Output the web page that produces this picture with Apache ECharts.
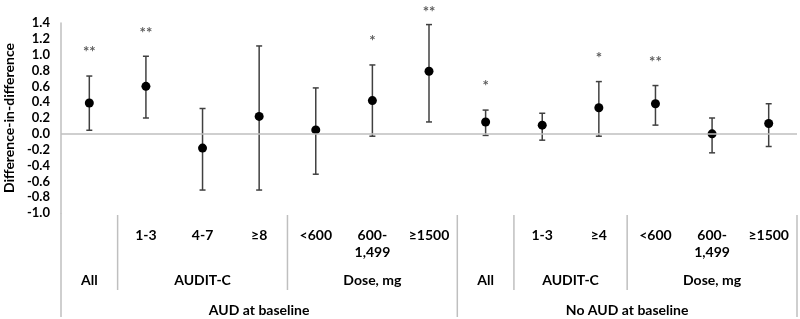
<!DOCTYPE html>
<html>
<head>
<meta charset="utf-8">
<script src="https://cdn.jsdelivr.net/npm/echarts@6/dist/echarts.min.js"></script>
<style>html,body{margin:0;padding:0;background:#fff}#chart{width:800px;height:319px}</style>
</head>
<body>
<div id="chart"></div>
<script>
// level 1 labels (one per point)
var tickLabels = ['', '1-3', '4-7', '≥8', '<600', '600-\n1,499', '≥1500', '', '1-3', '≥4', '<600', '600-\n1,499', '≥1500'];
// level 2 groups
var groupNames = ['All', 'AUDIT-C', 'Dose, mg', 'All', 'AUDIT-C', 'Dose, mg'];
var groupStart = [0, 1, 4, 7, 8, 10];
var groupEnd = [0, 3, 6, 7, 9, 12];
// level 3 groups
var cohortNames = ['AUD at baseline', 'No AUD at baseline'];
var cohortStart = [0, 7];
var cohortEnd = [6, 12];

var estimate = [0.39, 0.60, -0.18, 0.22, 0.05, 0.42, 0.79, 0.15, 0.11, 0.33, 0.38, 0.00, 0.13];
var lower = [0.045, 0.20, -0.71, -0.71, -0.51, -0.03, 0.15, -0.02, -0.08, -0.03, 0.11, -0.24, -0.16];
var upper = [0.73, 0.98, 0.32, 1.11, 0.58, 0.87, 1.38, 0.30, 0.26, 0.66, 0.61, 0.20, 0.38];
var stars = ['**', '**', '', '', '', '*', '**', '*', '', '*', '**', '', ''];

var font = 'Lato';
var gridColor = '#bfbfbf';

var didDiv = document.getElementById('chart');
var didChart = echarts.init(didDiv);

// error bar with caps
function renderBar(params, api) {
  var x = api.value(0);
  var top = api.coord([x, api.value(2)]);
  var bottom = api.coord([x, api.value(1)]);
  var cap = 3;
  var style = { stroke: '#404040', lineWidth: 1.5 };
  return {
    type: 'group',
    children: [
      { type: 'line', shape: { x1: top[0], y1: top[1], x2: bottom[0], y2: bottom[1] }, style: style },
      { type: 'line', shape: { x1: top[0] - cap, y1: top[1], x2: top[0] + cap, y2: top[1] }, style: style },
      { type: 'line', shape: { x1: bottom[0] - cap, y1: bottom[1], x2: bottom[0] + cap, y2: bottom[1] }, style: style }
    ]
  };
}

var barData = [];
for (var i = 0; i < estimate.length; i++) {
  barData.push([i, lower[i], upper[i]]);
}

option = {
  animation: false,
  grid: { left: 61, right: 3, top: 23, bottom: 106, containLabel: false, outerBoundsMode: 'none' },
  xAxis: {
    type: 'category',
    data: tickLabels,
    axisLine: { show: false, onZero: false },
    axisTick: { show: false },
    axisLabel: {
      interval: 0, margin: 14, lineHeight: 17,
      fontFamily: font, fontWeight: 'bold', fontSize: 14, color: '#000'
    }
  },
  yAxis: {
    type: 'value',
    min: -1.0,
    max: 1.4,
    interval: 0.2,
    name: 'Difference-in-difference',
    nameLocation: 'middle',
    nameGap: 45,
    nameTextStyle: { fontFamily: font, fontWeight: 'bold', fontSize: 14, color: '#000' },
    axisLine: { show: true, lineStyle: { color: gridColor, width: 1.5 } },
    axisTick: { show: false },
    splitLine: { show: false },
    axisLabel: {
      margin: 11,
      fontFamily: font, fontWeight: 'bold', fontSize: 13, color: '#000',
      formatter: function (v) { return v.toFixed(1); }
    }
  },
  series: [
    {
      type: 'custom',
      renderItem: renderBar,
      data: barData,
      encode: { x: 0, y: [1, 2] },
      z: 2
    },
    {
      type: 'scatter',
      data: estimate,
      symbolSize: 9,
      itemStyle: { color: '#000', opacity: 1 },
      z: 3,
      markLine: {
        silent: true,
        symbol: 'none',
        label: { show: false },
        lineStyle: { color: gridColor, width: 1.5, type: 'solid' },
        data: [{ yAxis: 0 }]
      }
    },
    {
      id: 'stars',
      type: 'scatter',
      data: upper,
      symbolSize: 0,
      clip: false,
      label: {
        show: true,
        position: 'top',
        distance: 16,
        fontFamily: font, fontSize: 15, fontWeight: 'bold', color: '#333',
        formatter: function (p) { return stars[p.dataIndex]; }
      }
    }
  ]
};

didChart.setOption(option);

// group labels and separators under the axis, keep stars inside the canvas
function drawGroups() {
  var c0 = didChart.convertToPixel({ xAxisIndex: 0 }, 0);
  var c1 = didChart.convertToPixel({ xAxisIndex: 0 }, 1);
  var step = c1 - c0;
  var base = didChart.convertToPixel({ yAxisIndex: 0 }, -1.0);
  function edge(i) { return c0 + (i - 0.5) * step; }

  var els = [];
  var lineStyle = { stroke: gridColor, lineWidth: 1.5 };
  groupStart.forEach(function (s) {
    if (cohortStart.indexOf(s) < 0) {
      els.push({ type: 'line', shape: { x1: edge(s), y1: base + 2, x2: edge(s), y2: base + 77 }, style: lineStyle });
    }
  });
  cohortStart.concat([cohortEnd[cohortEnd.length - 1] + 1]).forEach(function (s) {
    els.push({ type: 'line', shape: { x1: edge(s), y1: base + (s === 0 ? 0 : 2), x2: edge(s), y2: base + 104 }, style: lineStyle });
  });
  groupNames.forEach(function (name, k) {
    els.push({
      type: 'text',
      x: (edge(groupStart[k]) + edge(groupEnd[k] + 1)) / 2,
      y: base + 67,
      style: { text: name, fontFamily: font, fontWeight: 'bold', fontSize: 14, fill: '#000', align: 'center', verticalAlign: 'middle' }
    });
  });
  cohortNames.forEach(function (name, k) {
    els.push({
      type: 'text',
      x: (edge(cohortStart[k]) + edge(cohortEnd[k] + 1)) / 2,
      y: base + 97,
      style: { text: name, fontFamily: font, fontWeight: 'bold', fontSize: 14, fill: '#000', align: 'center', verticalAlign: 'middle' }
    });
  });

  var starData = upper.map(function (u) {
    var py = didChart.convertToPixel({ yAxisIndex: 0 }, u);
    return { value: u, label: { distance: Math.min(16, py - 20) } };
  });
  didChart.setOption({ graphic: els, series: [{}, {}, { id: 'stars', data: starData }] });
}
drawGroups();
</script>
</body>
</html>
